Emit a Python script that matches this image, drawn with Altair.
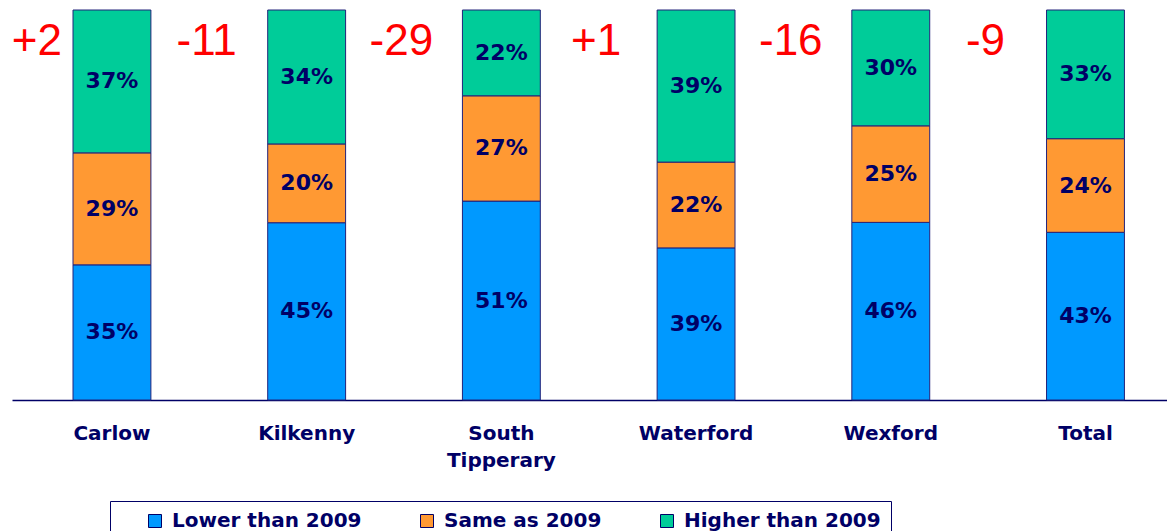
import altair as alt
import pandas as pd

regions = ["Carlow", "Kilkenny", "South Tipperary", "Waterford", "Wexford", "Total"]
categories = ["Lower than 2009", "Same as 2009", "Higher than 2009"]
colors = ["#0099FF", "#FF9933", "#00CC99"]
lower = [35, 45, 51, 39, 46, 43]
same = [29, 20, 27, 22, 25, 24]
higher = [37, 34, 22, 39, 30, 33]
change = ["+2", "-11", "-29", "+1", "-16", "-9"]

rows = []
for i, r in enumerate(regions):
    for j, (c, vals) in enumerate(zip(categories, [lower, same, higher])):
        rows.append({"region": r, "category": c, "value": vals[i], "ord": j,
                     "label": f"{vals[i]}%"})
df = pd.DataFrame(rows)
ann = pd.DataFrame({"region": regions, "change": change})

NAVY = "#000066"
BOLD_FONT = "DejaVu Sans"
RED_FONT = "Liberation Sans"

xscale = alt.Scale(paddingInner=0.6, paddingOuter=0.266, align=0.589, round=False)

xenc = alt.X("region:N", sort=regions, scale=xscale,
             axis=alt.Axis(title=None, labelAngle=0, ticks=False, labelPadding=23,
                           labelFont=BOLD_FONT, labelFontSize=20, labelFontWeight="bold",
                           labelColor=NAVY, labelLineHeight=27,
                           labelExpr="split(datum.label, ' ')",
                           domainColor=NAVY, domainWidth=1.5))

bars = alt.Chart(df).mark_bar(stroke="#22227a", strokeWidth=1).encode(
    x=xenc,
    y=alt.Y("value:Q", stack="normalize", axis=None,
            scale=alt.Scale(domain=[0, 1], nice=False)),
    color=alt.Color("category:N", sort=categories,
                    scale=alt.Scale(domain=categories, range=colors),
                    legend=alt.Legend(title=None, orient="none", legendX=98, legendY=491,
                                      direction="horizontal", symbolType="square",
                                      symbolSize=169, symbolStrokeColor=NAVY,
                                      symbolStrokeWidth=1, symbolOpacity=1,
                                      symbolOffset=25,
                                      labelFont=BOLD_FONT, labelFontSize=20,
                                      labelFontWeight="bold", labelColor=NAVY,
                                      columnPadding=30, padding=10, labelOffset=7,
                                      strokeColor=NAVY, fillColor="white",
                                      labelLimit=400)),
    order=alt.Order("ord:Q"),
)

labels = alt.Chart(df).transform_stack(
    stack="value", groupby=["region"], as_=["y0", "y1"], offset="normalize",
    sort=[alt.SortField("ord")]
).transform_calculate(
    mid="(datum.y0 + datum.y1) / 2"
).mark_text(font=BOLD_FONT, fontSize=22, fontWeight="bold", color=NAVY,
            baseline="middle").encode(
    x=alt.X("region:N", sort=regions),
    y=alt.Y("mid:Q"),
    text="label:N",
)

ann_first = alt.Chart(ann).transform_filter(
    alt.datum.region == regions[0]
).mark_text(font=RED_FONT, fontSize=44, color="#FF0000", baseline="alphabetic",
            dx=-75, dy=45).encode(
    x=alt.X("region:N", sort=regions), y=alt.datum(1), text="change:N")

ann_rest = alt.Chart(ann).transform_filter(
    alt.datum.region != regions[0]
).mark_text(font=RED_FONT, fontSize=44, color="#FF0000", baseline="alphabetic",
            dx=-100, dy=45).encode(
    x=alt.X("region:N", sort=regions), y=alt.datum(1), text="change:N")

chart = alt.layer(bars, labels, ann_first, ann_rest).properties(
    width=1155, height=390,
    autosize=alt.AutoSizeParams(type="none"),
    padding={"left": 4, "top": 2, "right": 0, "bottom": 131},
).configure_view(stroke=None)

chart.save("out.html", embed_options={"renderer": "svg", "actions": False})
